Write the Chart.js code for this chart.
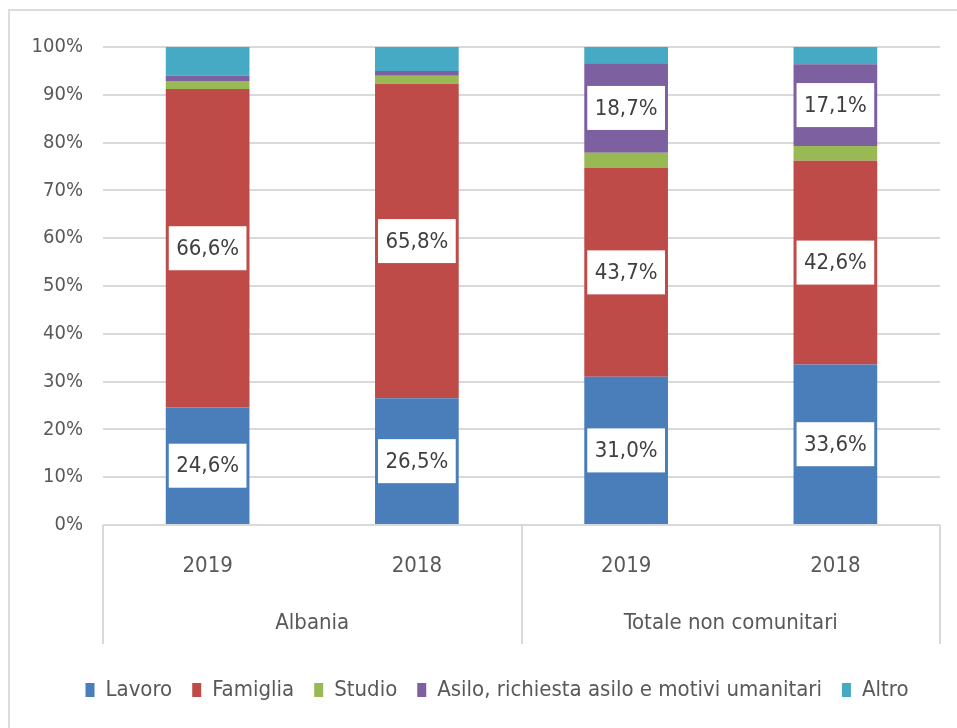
<!DOCTYPE html>
<html>
<head>
<meta charset="utf-8">
<script src="https://cdn.jsdelivr.net/npm/chart.js@4/dist/chart.umd.min.js"></script>
<style>
  html, body { margin: 0; padding: 0; background: #fff; }
  #wrap { position: relative; width: 957px; height: 728px; overflow: hidden; }
  #frame { position: absolute; left: 8px; top: 9px; width: 980px; height: 760px;
           border-top: 2px solid #dcdcdc; border-left: 2px solid #dcdcdc; }
  canvas { position: absolute; left: 0; top: 0; }
</style>
</head>
<body>
<div id="wrap">
  <div id="frame"></div>
  <canvas id="chart" width="957" height="728"></canvas>
</div>
<script>
// permessi per motivo, quote percentuali
const years = ['2019', '2018', '2019', '2018']
const groups = ['Albania', 'Totale non comunitari']
const lavoro = [24.6, 26.5, 31.0, 33.6]
const famiglia = [66.6, 65.8, 43.7, 42.6]
const studio = [1.7, 1.7, 3.2, 3.1]
const asilo = [1.1, 1.0, 18.7, 17.1]
const altro = [6.0, 5.0, 3.4, 3.6]
const yTicks = [0, 10, 20, 30, 40, 50, 60, 70, 80, 90, 100]

const FONT = '"Liberation Sans Narrow", "DejaVu Sans Condensed", "Liberation Sans", sans-serif'
const TXT = '#595959'
const GRID = '#d9d9d9'

const fmt = v => v.toFixed(1).replace('.', ',') + '%'

// white value boxes on the larger segments
const valueLabels = {
  id: 'valueLabels',
  afterDatasetsDraw(chart) {
    const ctx = chart.ctx
    ctx.save()
    ctx.font = '22px ' + FONT
    ctx.textAlign = 'center'
    ctx.textBaseline = 'middle'
    chart.data.datasets.forEach((ds, di) => {
      const meta = chart.getDatasetMeta(di)
      meta.data.forEach((bar, i) => {
        const v = ds.data[i]
        if (v < 10) return
        const cy = (bar.y + bar.base) / 2
        const w = bar.width - 6
        const h = 44
        ctx.fillStyle = '#fff'
        ctx.fillRect(bar.x - w / 2, cy - h / 2, w, h)
        ctx.fillStyle = '#404040'
        ctx.fillText(fmt(v), bar.x, cy + 1)
      })
    })
    ctx.restore()
  }
}

// second row of the category axis: group names and separators
const groupAxis = {
  id: 'groupAxis',
  afterLayout(chart) {
    // legend sits a bit right of the canvas centre
    chart.legend.left += 54
  },
  afterDraw(chart) {
    const x = chart.scales.x
    const ctx = chart.ctx
    const top = x.top
    const per = years.length / groups.length
    const edges = [x.left]
    for (let g = 1; g < groups.length; g++) {
      edges.push((x.getPixelForValue(g * per - 1) + x.getPixelForValue(g * per)) / 2)
    }
    edges.push(x.right)
    ctx.save()
    ctx.strokeStyle = GRID
    ctx.lineWidth = 2
    edges.forEach(px => {
      ctx.beginPath()
      ctx.moveTo(Math.round(px), top)
      ctx.lineTo(Math.round(px), top + 119)
      ctx.stroke()
    })
    ctx.font = '22px ' + FONT
    ctx.fillStyle = TXT
    ctx.textAlign = 'center'
    ctx.textBaseline = 'middle'
    groups.forEach((name, g) => {
      const cx = (x.getPixelForValue(g * per) + x.getPixelForValue(g * per + per - 1)) / 2
      ctx.fillText(name, cx, top + 98)
    })
    ctx.restore()
  }
}

new Chart(document.getElementById('chart'), {
  type: 'bar',
  data: {
    labels: years,
    datasets: [
      {label: 'Lavoro', data: lavoro, backgroundColor: '#4a7ebb'},
      {label: 'Famiglia', data: famiglia, backgroundColor: '#be4b48'},
      {label: 'Studio', data: studio, backgroundColor: '#98b954'},
      {label: 'Asilo, richiesta asilo e motivi umanitari', data: asilo, backgroundColor: '#7d60a0'},
      {label: 'Altro', data: altro, backgroundColor: '#46aac5'}
    ]
  },
  options: {
    responsive: false,
    animation: false,
    layout: {padding: {top: 47, right: 17, bottom: 17, left: 0}},
    datasets: {bar: {categoryPercentage: 1, barPercentage: 0.4}},
    scales: {
      x: {
        stacked: true,
        grid: {display: false, drawTicks: false},
        border: {display: false},
        ticks: {color: TXT, font: {family: FONT, size: 22}, padding: 28},
        afterFit: s => { s.height = 134 }
      },
      y: {
        stacked: true,
        min: 0,
        max: 100,
        afterBuildTicks: s => { s.ticks = yTicks.map(v => ({value: v})) },
        grid: {color: GRID, lineWidth: 2, drawTicks: false},
        border: {display: false},
        ticks: {color: TXT, font: {family: FONT, size: 20}, padding: 20, callback: v => v + '%'},
        afterFit: s => { s.width = 103 }
      }
    },
    plugins: {
      tooltip: {enabled: false},
      legend: {
        position: 'bottom',
        labels: {
          color: TXT,
          font: {family: FONT, size: 22},
          boxWidth: 9,
          boxHeight: 14,
          padding: 20
        }
      }
    }
  },
  plugins: [valueLabels, groupAxis]
})
</script>
</body>
</html>
